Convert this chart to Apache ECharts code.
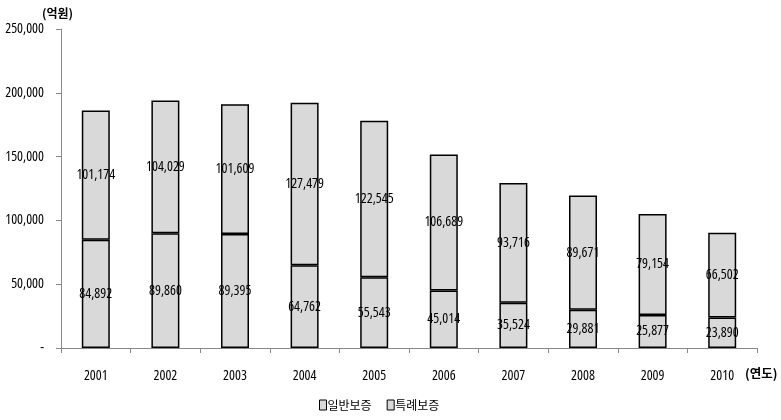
<!DOCTYPE html>
<html>
<head>
<meta charset="utf-8">
<script src="https://cdn.jsdelivr.net/npm/echarts@6/dist/echarts.min.js"></script>
<style>
  html, body { margin: 0; padding: 0; background: #fff; }
  #chart { width: 781px; height: 420px; }
</style>
</head>
<body>
<div id="chart"></div>
<script>
// 연도별 보증 실적 (억원)
const years = ['2001', '2002', '2003', '2004', '2005', '2006', '2007', '2008', '2009', '2010'];
const generalGuarantee = [84892, 89860, 89395, 64762, 55543, 45014, 35524, 29881, 25877, 23890];
const specialGuarantee = [101174, 104029, 101609, 127479, 122545, 106689, 93716, 89671, 79154, 66502];
const seriesNames = ['일반보증', '특례보증'];

// narrow numerals: font-stretch keyword passed through the canvas font shorthand
const numFont = '"Open Sans"';
const numStretch = 'condensed';
const krFont = '"Noto Sans CJK KR", sans-serif';

const fmt = v => v.toLocaleString('en-US');

const barLabel = {
  show: true,
  position: 'inside',
  color: '#000',
  fontFamily: numFont,
  fontStyle: numStretch,
  fontSize: 14,
  formatter: p => fmt(p.value)
};
const barStyle = { color: '#d9d9d9', borderColor: '#000', borderWidth: 1.5 };

const chart = echarts.init(document.getElementById('chart'));
chart.setOption({
  animation: false,
  grid: { left: 61, right: 24, top: 29, bottom: 72, outerBoundsMode: 'none', containLabel: false },
  legend: {
    data: seriesNames,
    top: 394,
    left: 314,
    icon: 'rect',
    itemWidth: 7,
    itemHeight: 10,
    itemGap: 15,
    textStyle: { fontFamily: krFont, fontSize: 12, color: '#000', padding: [0, 0, 0, -4] },
    itemStyle: { color: '#d9d9d9', borderColor: '#000', borderWidth: 1 }
  },
  xAxis: {
    type: 'category',
    data: years,
    axisLine: { lineStyle: { color: '#888', width: 1 } },
    axisTick: { show: true, alignWithLabel: false, length: 5, lineStyle: { color: '#888' } },
    axisLabel: { color: '#000', fontFamily: numFont, fontStyle: numStretch, fontSize: 14, margin: 21 }
  },
  yAxis: {
    type: 'value',
    min: 0,
    max: 250000,
    interval: 50000,
    splitLine: { show: false },
    axisLine: { show: true, lineStyle: { color: '#888', width: 1 } },
    axisTick: { show: true, length: 5, lineStyle: { color: '#888' } },
    axisLabel: {
      color: '#000', fontFamily: numFont, fontStyle: numStretch, fontSize: 14, margin: 17,
      formatter: v => v === 0 ? '-' : fmt(v)
    }
  },
  graphic: [
    { type: 'text', left: 42, top: 7, style: { text: '(억원)', font: 'bold 12px ' + krFont, fill: '#000' } },
    { type: 'text', left: 745, top: 367, style: { text: '(연도)', font: 'bold 12.5px ' + krFont, fill: '#000' } }
  ],
  series: [
    {
      name: seriesNames[0], type: 'bar', stack: 'total', barWidth: 28,
      data: generalGuarantee, itemStyle: barStyle, label: barLabel
    },
    {
      name: seriesNames[1], type: 'bar', stack: 'total', barWidth: 28,
      data: specialGuarantee, itemStyle: barStyle, label: barLabel
    }
  ]
});
</script>
</body>
</html>
